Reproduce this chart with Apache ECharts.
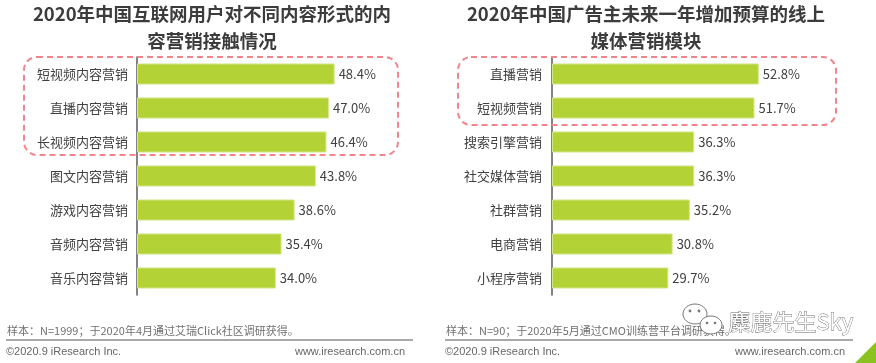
<!DOCTYPE html>
<html>
<head>
<meta charset="utf-8">
<script src="https://cdn.jsdelivr.net/npm/echarts@6/dist/echarts.min.js"></script>
<style>
  html, body { margin: 0; padding: 0; background: #fff; }
  #chart { width: 876px; height: 363px; }
</style>
</head>
<body>
<div id="chart"></div>
<script>
// 左图：互联网用户接触的内容营销形式
const leftCategories = ['短视频内容营销', '直播内容营销', '长视频内容营销', '图文内容营销', '游戏内容营销', '音频内容营销', '音乐内容营销'];
const leftValues = [48.4, 47.0, 46.4, 43.8, 38.6, 35.4, 34.0];

// 右图：广告主增加预算的线上媒体营销模块
const rightCategories = ['直播营销', '短视频营销', '搜索引擎营销', '社交媒体营销', '社群营销', '电商营销', '小程序营销'];
const rightValues = [52.8, 51.7, 36.3, 36.3, 35.2, 30.8, 29.7];

const leftTitle = '2020年中国互联网用户对不同内容形式的内\n容营销接触情况';
const rightTitle = '2020年中国广告主未来一年增加预算的线上\n媒体营销模块';
const leftNote = '样本：N=1999；于2020年4月通过艾瑞Click社区调研获得。';
const rightNote = '样本：N=90；于2020年5月通过CMO训练营平台调研获得。';

const FONT = '"Noto Sans CJK SC", "Noto Sans", sans-serif';
const BAR_COLOR = '#b2d235';
const TEXT_COLOR = '#404040';

const chart = echarts.init(document.getElementById('chart'));

function barSeries(idx, values) {
  return {
    type: 'bar',
    xAxisIndex: idx,
    yAxisIndex: idx,
    data: values,
    barCategoryGap: '38%',
    itemStyle: { color: BAR_COLOR, borderColor: '#d3e88a', borderWidth: 1 },
    label: {
      show: true,
      position: 'right',
      distance: 4,
      formatter: p => p.value.toFixed(1) + '%',
      color: TEXT_COLOR,
      fontSize: 13,
      fontFamily: FONT
    },
    silent: true
  };
}

function catAxis(idx, cats, margin) {
  return {
    type: 'category',
    gridIndex: idx,
    data: cats,
    inverse: true,
    axisTick: { show: false },
    axisLine: { lineStyle: { color: '#595959', width: 1.5 } },
    axisLabel: { color: TEXT_COLOR, fontSize: 13, fontFamily: FONT, margin: margin }
  };
}

function valAxis(idx) {
  return {
    type: 'value',
    gridIndex: idx,
    min: 0,
    max: 60,
    show: false
  };
}

function noteGraphics(x0, x1, note) {
  return [
    { type: 'text', left: x0 + 1, top: 325, style: { text: note, fill: '#707070', fontSize: 11, fontFamily: FONT } },
    { type: 'line', shape: { x1: x0, y1: 340, x2: x1, y2: 340 }, style: { stroke: '#a9a9a9', lineWidth: 2 } },
    { type: 'text', left: x0, top: 346, style: { text: '©2020.9 iResearch Inc.', fill: '#666', fontSize: 11, fontFamily: '"Liberation Sans", Arial, sans-serif' } },
    { type: 'text', right: 876 - x1 + 8, top: 346, style: { text: 'www.iresearch.com.cn', fill: '#666', fontSize: 11, fontFamily: '"Liberation Sans", Arial, sans-serif' } }
  ];
}

const option = {
  animation: false,
  backgroundColor: '#fff',
  title: [
    {
      text: leftTitle, left: 212, top: 0, padding: 0, textAlign: 'center',
      textStyle: { fontSize: 18.5, fontWeight: 'bold', color: '#3c3c3c', lineHeight: 27, fontFamily: FONT }
    },
    {
      text: rightTitle, left: 646, top: 0, padding: 0, textAlign: 'center',
      textStyle: { fontSize: 18.5, fontWeight: 'bold', color: '#3c3c3c', lineHeight: 27, fontFamily: FONT }
    }
  ],
  grid: [
    { left: 137, top: 57, width: 245, height: 238 },
    { left: 552, top: 57, width: 235, height: 238 }
  ],
  xAxis: [valAxis(0), valAxis(1)],
  yAxis: [catAxis(0, leftCategories, 9), catAxis(1, rightCategories, 10)],
  series: [barSeries(0, leftValues), barSeries(1, rightValues)],
  graphic: [
    {
      type: 'rect', shape: { x: 24, y: 57, width: 374, height: 98, r: 13 },
      style: { fill: 'none', stroke: '#f2868c', lineWidth: 2, lineDash: [6, 4] }, z: 10
    },
    {
      type: 'rect', shape: { x: 458, y: 57, width: 378, height: 68, r: 13 },
      style: { fill: 'none', stroke: '#f2868c', lineWidth: 2, lineDash: [6, 4] }, z: 10
    },
    ...noteGraphics(6, 413, leftNote),
    ...noteGraphics(445, 853, rightNote),
    // 水印
    { type: 'ellipse', shape: { cx: 695, cy: 314, rx: 12, ry: 10 }, style: { fill: '#fff', stroke: '#777', lineWidth: 1 }, z: 20 },
    { type: 'circle', shape: { cx: 690, cy: 311, r: 1.4 }, style: { fill: '#777' }, z: 21 },
    { type: 'circle', shape: { cx: 699, cy: 311, r: 1.4 }, style: { fill: '#777' }, z: 21 },
    { type: 'ellipse', shape: { cx: 711, cy: 325, rx: 11, ry: 9 }, style: { fill: '#fff', stroke: '#777', lineWidth: 1 }, z: 22 },
    { type: 'circle', shape: { cx: 707, cy: 323, r: 1.3 }, style: { fill: '#777' }, z: 23 },
    { type: 'circle', shape: { cx: 715, cy: 323, r: 1.3 }, style: { fill: '#777' }, z: 23 },
    {
      type: 'text', left: 728, top: 310, z: 24,
      style: { text: '麋鹿先生Sky', fill: '#fff', stroke: '#666', lineWidth: 0.8, fontSize: 22, fontFamily: FONT }
    },
    {
      type: 'polygon', shape: { points: [[876, 342], [876, 363], [855, 363]] },
      style: { fill: '#8cc21f' }
    }
  ]
};

chart.setOption(option);
</script>
</body>
</html>
